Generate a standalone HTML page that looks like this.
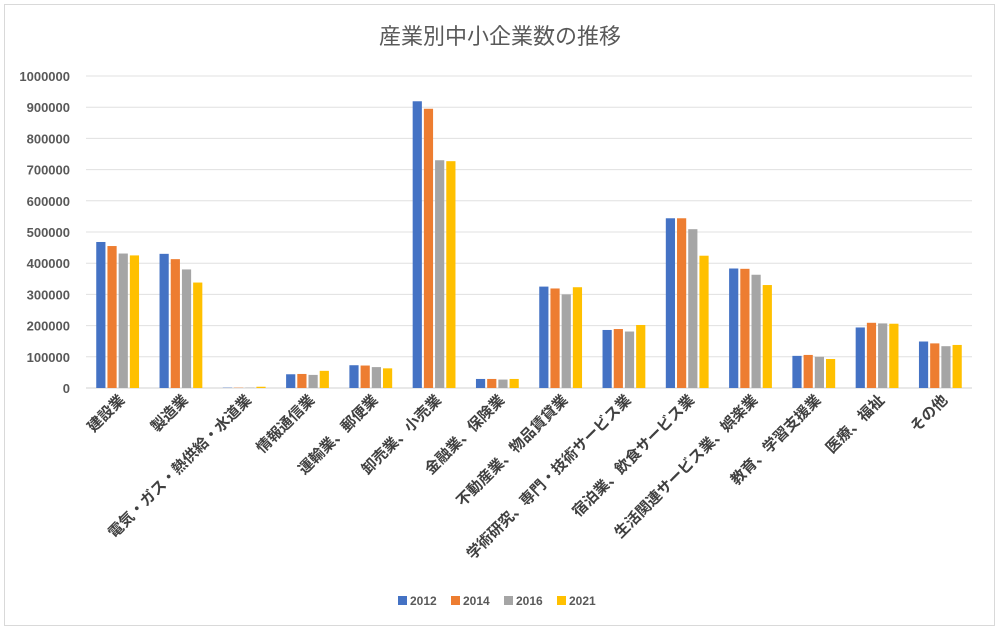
<!DOCTYPE html>
<html><head><meta charset="utf-8"><style>
body{margin:0;background:#fff;}
svg text{font-family:"Liberation Sans","Noto Sans CJK JP",sans-serif;}
</style></head><body>
<svg width="999" height="630" viewBox="0 0 999 630" xmlns="http://www.w3.org/2000/svg">
<rect x="4.5" y="4.5" width="990" height="621" fill="#fff" stroke="#d9d9d9"/>
<text x="500" y="44" text-anchor="middle" font-size="22" fill="#595959">産業別中小企業数の推移</text>
<g id="grid"></g><g id="bars"></g><g id="xl"></g><g id="legend"></g>
</svg>
<script>
const categories=["建設業","製造業","電気・ガス・熱供給・水道業","情報通信業","運輸業、郵便業","卸売業、小売業","金融業、保険業","不動産業、物品賃貸業","学術研究、専門・技術サービス業","宿泊業、飲食サービス業","生活関連サービス業、娯楽業","教育、学習支援業","医療、福祉","その他"];
const seriesNames=["2012","2014","2016","2021"];
const colors=["#4472c4","#ed7d31","#a5a5a5","#ffc000"];
const s2012=[468000,430000,1000,44000,73000,919000,29000,325000,186000,544000,383000,103000,194000,149000];
const s2014=[455000,413000,1000,45000,72000,895000,29000,319000,189000,544000,382000,106000,209000,143000];
const s2016=[431000,380000,1100,42000,67000,730000,27000,300000,181000,509000,363000,100000,207000,134000];
const s2021=[425000,338000,4000,55000,63000,727000,29000,323000,202000,424000,330000,93000,206000,138000];
const series=[s2012,s2014,s2016,s2021];
const yTicks=[0,100000,200000,300000,400000,500000,600000,700000,800000,900000,1000000];
const NS="http://www.w3.org/2000/svg";
const L=86,R=972,Y0=388,Y1=76,MAX=1000000;
const y=v=>Y0-(v/MAX)*(Y0-Y1);
const bw=(R-L)/categories.length;
const cx=i=>L+bw*(i+0.5);
function mk(t,a,p){const e=document.createElementNS(NS,t);for(const k in a)e.setAttribute(k,a[k]);p.appendChild(e);return e;}
const g=document.getElementById('grid');
yTicks.forEach(v=>{
 const l=mk('line',{x1:L,x2:R,y1:y(v),y2:y(v),stroke:v===0?'#d0d0d0':'#e0e0e0','stroke-width':1},g);
 
 
 const t=mk('text',{x:70,y:y(v)+5,'text-anchor':'end','font-size':13,'font-weight':'bold',fill:'#595959'},g);
 t.textContent=v;
 
 
});
const b=document.getElementById('bars');
const barW=9.2,gap=2;
categories.forEach((c,i)=>{
 series.forEach((s,j)=>{
  const x=cx(i)-(4*barW+3*gap)/2+j*(barW+gap);
  const r=mk('rect',{x:x,y:y(s[i]),width:barW,height:Y0-y(s[i]),fill:colors[j]},b);
  
  
 });
 const t=mk('text',{'text-anchor':'end','font-size':15,'font-weight':'bold',fill:'#404040',transform:`translate(${cx(i)+8},${Y0+13}) rotate(-45)`},document.getElementById('xl'));
 t.textContent=c;
 
 
});
const lg=document.getElementById('legend');
let lx=398;
seriesNames.forEach((n,j)=>{
 const gg=mk('g',{},lg);
 
 
 mk('rect',{x:lx,y:596,width:9,height:9,fill:colors[j]},gg);
 const t=mk('text',{x:lx+12,y:605,'font-size':12,'font-weight':'bold',fill:'#595959'},gg);
 t.textContent=n;
 lx+=53;
});
</script>
</body></html>
